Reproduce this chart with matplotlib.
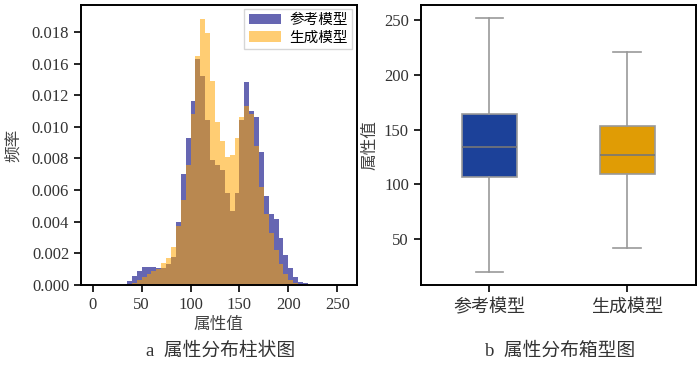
import matplotlib
matplotlib.use("Agg")
import matplotlib.pyplot as plt
import numpy as np

plt.rcParams['font.family'] = ['Liberation Serif', 'Noto Sans CJK SC']
plt.rcParams['axes.unicode_minus'] = False

# histogram: shared bins, density per bin
bin_edges = [35, 40, 45, 50, 55, 60, 65, 70, 75, 80, 85, 90, 95, 100, 105, 110,
             115, 120, 125, 130, 135, 140, 145, 150, 155, 160, 165, 170, 175,
             180, 185, 190, 195, 200, 205, 210, 215, 220, 225]
ref_density = [0.00025, 0.0006, 0.0009, 0.00116, 0.00116, 0.00112, 0.0011, 0.0011,
               0.0013, 0.0018, 0.0040, 0.0070, 0.0093, 0.0116, 0.0143, 0.0132,
               0.0104, 0.0079, 0.0076, 0.0073, 0.0058, 0.0047, 0.0058, 0.0104,
               0.0128, 0.0110, 0.0106, 0.0084, 0.0056, 0.0045, 0.0042, 0.0030,
               0.0019, 0.00105, 0.0005, 0.0002, 0.0001, 0.0]
gen_density = [0.0, 0.0001, 0.0003, 0.0005, 0.0007, 0.0009, 0.0010, 0.0014,
               0.0017, 0.0024, 0.0037, 0.0054, 0.0076, 0.0108, 0.0145, 0.0168,
               0.0159, 0.0129, 0.0103, 0.0091, 0.0081, 0.0082, 0.0093, 0.0106,
               0.0113, 0.0108, 0.0088, 0.0062, 0.0045, 0.0033, 0.0022, 0.0013,
               0.0007, 0.0003, 0.0001, 0.0, 0.0, 0.0]
hist_yticks = [0.0, 0.002, 0.004, 0.006, 0.008, 0.010, 0.012, 0.014, 0.016]
hist_ytick_labels = ['0.000', '0.002', '0.004', '0.006', '0.008', '0.010',
                     '0.012', '0.016', '0.018']
hist_xticks = [0, 50, 100, 150, 200, 250]

# boxplot stats (whiskers at 1.5 IQR)
models = ['参考模型', '生成模型']
box_q1 = [107, 109.5]
box_med = [134, 127]
box_q3 = [164.5, 153.5]
box_low = [20, 42]
box_high = [251.5, 220.5]
box_colors = ['#1c4199', '#e09c05']

fig = plt.figure(figsize=(7, 3.68), dpi=100)

# ---- a: histogram
ax1 = fig.add_axes([0.1157, 0.2255, 0.394, 0.761])
edges = np.array(bin_edges)
ax1.hist(edges[:-1], bins=edges, weights=ref_density, color='navy', alpha=0.6,
         label='参考模型')
ax1.hist(edges[:-1], bins=edges, weights=gen_density, color='orange', alpha=0.55,
         label='生成模型')
ax1.set_xlim(-12, 270)
ax1.set_ylim(0, 0.0177)
ax1.set_xticks(hist_xticks)
ax1.set_yticks(hist_yticks)
ax1.set_yticklabels(hist_ytick_labels)
ax1.set_xlabel('属性值', fontsize=12, color='#444444', labelpad=3)
ax1.set_ylabel('频率', fontsize=12, color='#444444', labelpad=7)
ax1.legend(loc='upper right', fontsize=10.5, handlelength=2.2, borderpad=0.3,
           labelspacing=0.3, handletextpad=0.6, borderaxespad=0.3,
           fancybox=False, edgecolor='#cccccc')

# ---- b: boxplot
ax2 = fig.add_axes([0.601, 0.2255, 0.393, 0.761])
stats = []
for i in range(len(models)):
    stats.append(dict(med=box_med[i], q1=box_q1[i], q3=box_q3[i],
                      whislo=box_low[i], whishi=box_high[i], fliers=[],
                      label=models[i]))
line_kw = dict(color='#999999', linewidth=1.2)
bp = ax2.bxp(stats, positions=[0, 1], widths=0.4, patch_artist=True,
             showfliers=False, boxprops=dict(edgecolor='#999999', linewidth=1.2),
             whiskerprops=line_kw, capprops=line_kw,
             medianprops=dict(color='#777777', linewidth=1.2))
for patch, c in zip(bp['boxes'], box_colors):
    patch.set_facecolor(c)
ax2.set_xlim(-0.5, 1.5)
ax2.set_ylim(8.4, 263.4)
ax2.set_yticks([50, 100, 150, 200, 250])
ax2.set_ylabel('属性值', fontsize=12, color='#444444', labelpad=4)

for ax in (ax1, ax2):
    ax.tick_params(direction='out', length=5, width=1.2, labelsize=12,
                   colors='black', labelcolor='#333333')
    for s in ax.spines.values():
        s.set_linewidth(1.4)
ax2.tick_params(axis='x', labelsize=13, pad=5)

fig.text(0.315, 0.022, 'a  属性分布柱状图', ha='center', va='bottom', fontsize=13.5,
         color='#333333')
fig.text(0.80, 0.022, 'b  属性分布箱型图', ha='center', va='bottom', fontsize=13.5,
         color='#333333')

fig.savefig('out.png', dpi=100)
